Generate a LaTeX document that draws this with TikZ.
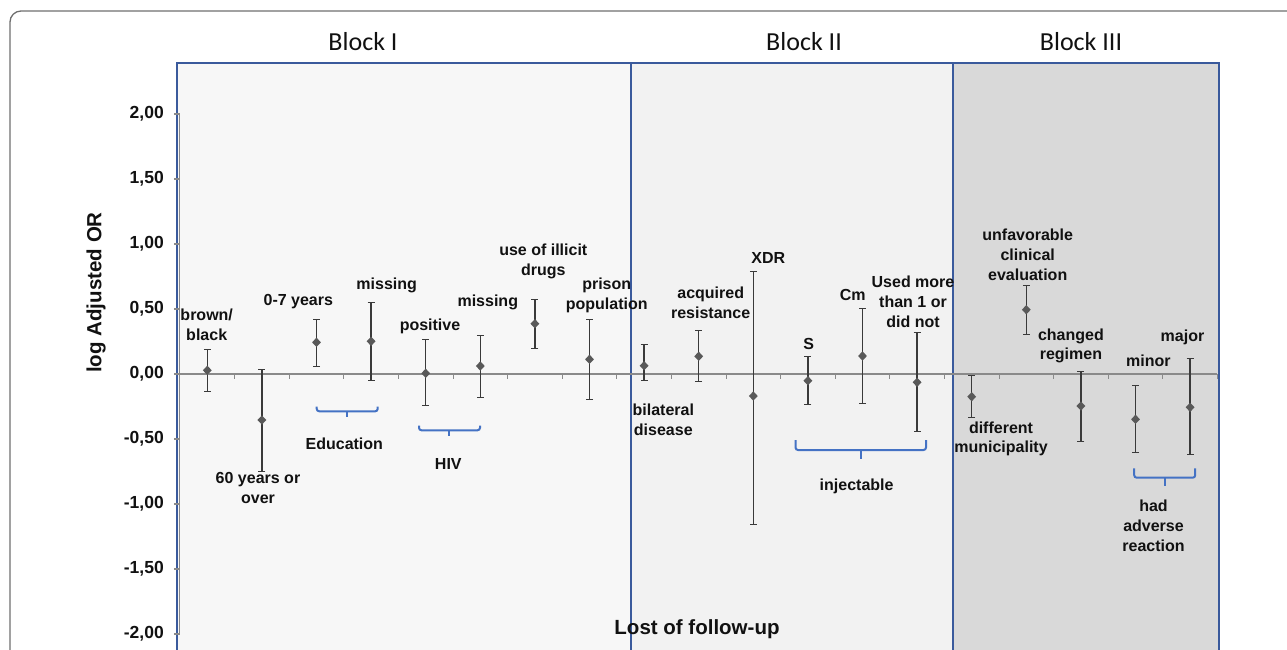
\documentclass[tikz,border=0pt]{standalone}
\usepackage{fontspec}
\setmainfont{Liberation Sans}
\newfontfamily\calibri{Carlito}
\usetikzlibrary{arrows.meta,shapes.geometric}
\definecolor{errc}{HTML}{3A3A3A}
\definecolor{markc}{HTML}{595959}
\definecolor{blockline}{HTML}{3A5A9C}
\definecolor{bracec}{HTML}{4472C4}
\definecolor{axisc}{HTML}{8A8A8A}
\definecolor{framec}{HTML}{6E6E6E}
\definecolor{txt}{HTML}{111111}
\definecolor{fillI}{HTML}{F7F7F7}
\definecolor{fillII}{HTML}{F2F2F2}
\definecolor{fillIII}{HTML}{D9D9D9}
\tikzset{
  blockbox/.style={draw=blockline, line width=1.2pt},
  blocktitle/.style={font=\calibri\fontsize{26}{30}\selectfont, text=txt, inner sep=0},
  errbar/.style={draw=errc, line width=1.4pt, {Bar[width=7pt,line width=1.1pt]}-{Bar[width=7pt,line width=1.1pt]}},
  marker/.style={diamond, fill=markc, draw=none, minimum width=9pt, minimum height=9.5pt, inner sep=0},
  lbl/.style={font=\bfseries\fontsize{16}{19.8}\selectfont, text=txt, align=center, inner sep=0},
  ticklbl/.style={font=\bfseries\fontsize{17.5}{20}\selectfont, text=txt, anchor=east, inner sep=0},
  axtitle/.style={font=\bfseries\fontsize{20.5}{24}\selectfont, text=txt, inner sep=0},
  bracep/.style={draw=bracec, line width=2pt, rounded corners=2.5pt},
  axisl/.style={draw=axisc, line width=1.1pt},
}
\begin{document}
\begin{tikzpicture}[x=1pt,y=-1pt]
\useasboundingbox (0,0) rectangle (1287,649);
\clip (0,0) rectangle (1287,649);
% outer frame
\draw[framec, line width=1.3pt, rounded corners=11pt] (1300,11) -- (10,11) -- (10,670);
% blocks
\fill[fillI] (177,63) rectangle (631,660);
\fill[fillII] (631,63) rectangle (953,660);
\fill[fillIII] (953,63) rectangle (1219,660);
\draw[blockbox] (177,660) -- (177,63) -- (1219,63) -- (1219,660);
\draw[blockbox] (631,63) -- (631,660);
\draw[blockbox] (953,63) -- (953,660);
\node[blocktitle] (b1) at (363,42) {Block I};
\node[blocktitle] (b2) at (804,42) {Block II};
\node[blocktitle] (b3) at (1081,42) {Block III};
% axes
\draw[axisl] (179.5,114) -- (179.5,634);
\foreach \k in {0,...,8} { \draw[axisl] (174,114+65*\k) -- (179.5,114+65*\k); }
\draw[axisl] (179.5,374) -- (1217,374);
\foreach \k in {1,...,19} { \draw[axisl, line width=0.9pt] (180+54.6*\k,374) -- (180+54.6*\k,378.5); }
\node[ticklbl] (t0) at (164,114) {2,00};
\node[ticklbl] (t1) at (164,179) {1,50};
\node[ticklbl] (t2) at (164,244) {1,00};
\node[ticklbl] (t3) at (164,309) {0,50};
\node[ticklbl] (t4) at (164,374) {0,00};
\node[ticklbl] (t5) at (164,439) {-0,50};
\node[ticklbl] (t6) at (164,504) {-1,00};
\node[ticklbl] (t7) at (164,569) {-1,50};
\node[ticklbl] (t8) at (164,634) {-2,00};
\node[axtitle, rotate=90] (ytitle) at (96,292.5) {log Adjusted OR};
\node[axtitle] (xtitle) at (697,629) {Lost of follow-up};
% error bars and markers
\foreach \i/\m/\u/\l in {0/370.3/348.7/392.3, 1/420/369.3/471.7, 2/342.3/319.3/367.3, 3/341.3/301.7/381,
  4/373.3/339.3/406, 5/366/334.7/397.7, 6/323.7/298.7/349, 7/359.3/319.3/399.7, 8/365.7/344/381,
  9/356.3/330.3/382.3, 10/396/271/525, 11/380.7/356.3/405.3, 12/356/308.3/404, 13/382.3/331.7/432,
  14/396.7/375/418.3, 15/309.7/285.3/334.7, 16/406/370.7/442.3, 17/419.3/384.7/452.7, 18/407.3/358.3/455.3} {
  \pgfmathsetmacro\xx{207.3+54.6*\i}
  \coordinate (u\i) at (\xx,\u);
  \coordinate (l\i) at (\xx,\l);
  \draw[errbar] (l\i) -- (u\i);
  \node[marker] (p\i) at (\xx,\m) {};
}
% labels
\node[lbl] (n0) at (206.7,324.7) {brown/\\black};
\node[lbl] (n1) at (258,488.3) {60 years or\\over};
\node[lbl] (n2) at (298.3,301.7) {0-7 years};
\node[lbl] (n3) at (386.7,285) {missing};
\node[lbl] (n4) at (430,326.7) {positive};
\node[lbl] (n5) at (487.8,302.7) {missing};
\node[lbl] (n6) at (543.3,261.7) {use of illicit\\drugs};
\node[lbl] (n7) at (606.7,295) {prison\\population};
\node[lbl] (n8) at (663.3,419.7) {bilateral\\disease};
\node[lbl] (n9) at (710.7,302.7) {acquired\\resistance};
\node[lbl] (n10) at (768.3,257.7) {XDR};
\node[lbl] (n11) at (808.7,344) {S};
\node[lbl] (n12) at (852.7,295) {Cm};
\node[lbl] (n13) at (913,301.7) {Used more\\than 1 or\\did not};
\node[lbl] (n14) at (1001,438.8) {different\\municipality};
\node[lbl] (n15) at (1027.7,254.5) {unfavorable\\clinical\\evaluation};
\node[lbl] (n16) at (1070.9,345.8) {changed\\regimen};
\node[lbl] (n17) at (1148.3,360.7) {minor};
\node[lbl] (n18) at (1182.5,337.7) {major};
% group braces and labels
\draw[bracep] (316.7,406.7) -- (316.7,411.3) -- (377.7,411.3) -- (377.7,406.7);
\draw[bracec, line width=2pt] (347.3,411.3) -- (347.3,416.7);
\node[lbl] (gEdu) at (344.3,443.3) {Education};
\draw[bracep] (419,425.7) -- (419,430.3) -- (480,430.3) -- (480,425.7);
\draw[bracec, line width=2pt] (449.3,430.3) -- (449.3,436);
\node[lbl] (gHIV) at (448.3,464.3) {HIV};
\draw[bracep] (795.5,440) -- (795.5,450) -- (926,450) -- (926,440);
\draw[bracec, line width=2pt] (860.6,450) -- (860.6,458.7);
\node[lbl] (gInj) at (856.6,486.7) {injectable};
\draw[bracep] (1134.2,468.3) -- (1134.2,477.7) -- (1195.2,477.7) -- (1195.2,468.3);
\draw[bracec, line width=2pt] (1164.5,477.7) -- (1164.5,486);
\node[lbl] (gAdv) at (1153.5,525.8) {had\\adverse\\reaction};
\end{tikzpicture}
\end{document}
